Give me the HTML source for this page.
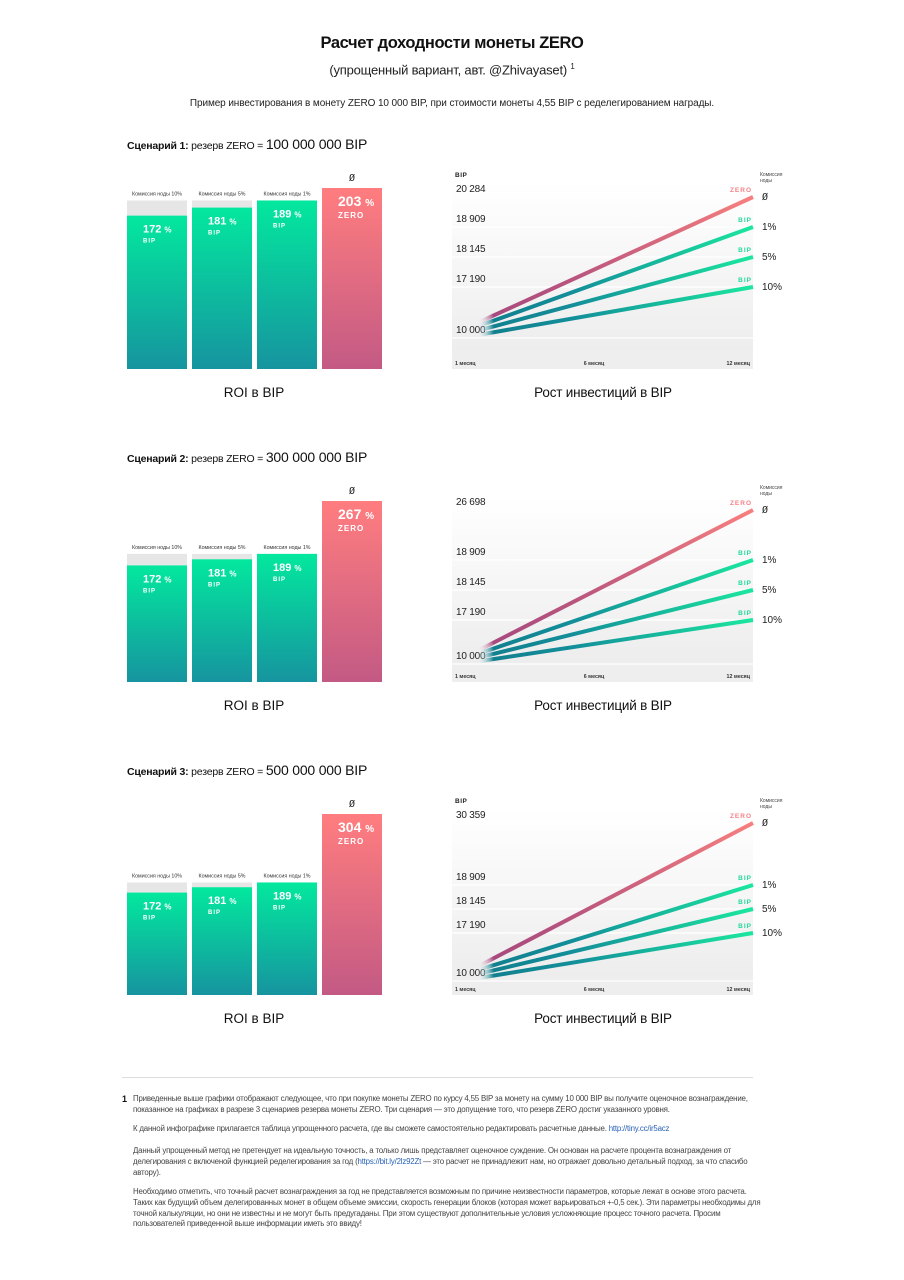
<!DOCTYPE html>
<html><head><meta charset="utf-8">
<style>
html,body{margin:0;padding:0;background:#fff;}
body{width:904px;height:1280px;position:relative;overflow:hidden;font-family:"Liberation Sans","DejaVu Sans",sans-serif;color:#111;}
.abs{position:absolute;}
.title{left:0;width:904px;top:34px;text-align:center;font-weight:bold;font-size:16.5px;letter-spacing:-0.4px;}
.sub{left:0;width:904px;top:62px;text-align:center;font-size:13px;color:#222;letter-spacing:-0.2px;}
.intro{left:0;width:904px;top:98px;text-align:center;font-size:10px;color:#222;letter-spacing:-0.1px;}
.foot{left:133px;width:630px;font-size:7.9px;line-height:10.8px;color:#444;letter-spacing:-0.2px;}
.foot a{color:#2a62b8;text-decoration:none;}
</style></head>
<body>
<div class="abs title">Расчет доходности монеты ZERO</div>
<div class="abs sub">(упрощенный вариант, авт. @Zhivayaset) <sup style="font-size:8px">1</sup></div>
<div class="abs intro">Пример инвестирования в монету ZERO 10 000 BIP, при стоимости монеты 4,55 BIP с ределегированием награды.</div>

<svg id="charts" class="abs" style="left:0;top:0" width="904" height="1060"></svg>

<div class="abs" style="left:122px;top:1077px;width:631px;height:1px;background:#ddd"></div>
<div class="abs" style="left:122px;top:1094px;font-size:9px;font-weight:bold">1</div>
<div class="abs foot" style="top:1094px">Приведенные выше графики отображают следующее, что при покупке монеты ZERO по курсу 4,55 BIP за монету на сумму 10 000 BIP вы получите оценочное вознаграждение, показанное на графиках в разрезе 3 сценариев резерва монеты ZERO. Три сценария — это допущение того, что резерв ZERO достиг указанного уровня.</div>
<div class="abs foot" style="top:1124px">К данной инфографике прилагается таблица упрощенного расчета, где вы сможете самостоятельно редактировать расчетные данные. <a href="#">http://tiny.cc/ir5acz</a></div>
<div class="abs foot" style="top:1146px">Данный упрощенный метод не претендует на идеальную точность, а только лишь представляет оценочное суждение. Он основан на расчете процента вознаграждения от делегирования с включеной функцией ределегирования за год (<a href="#">https://bit.ly/2lz92Zt</a> — это расчет не принадлежит нам, но отражает довольно детальный подход, за что спасибо автору).</div>
<div class="abs foot" style="top:1187px">Необходимо отметить, что точный расчет вознаграждения за год не представляется возможным по причине неизвестности параметров, которые лежат в основе этого расчета. Таких как будущий объем делегированных монет в общем объеме эмиссии, скорость генерации блоков (которая может варьироваться +-0,5 сек.). Эти параметры необходимы для точной калькуляции, но они не известны и не могут быть предугаданы. При этом существуют дополнительные условия усложняющие процесс точного расчета. Просим пользователей приведенной выше информации иметь это ввиду!</div>

<script>
// ---- data ----
const scenarioNames = ["Сценарий 1:", "Сценарий 2:", "Сценарий 3:"];
const reserveLabels = ["100 000 000 BIP", "300 000 000 BIP", "500 000 000 BIP"];
const barCategories = ["Комиссия ноды 10%", "Комиссия ноды 5%", "Комиссия ноды 1%", "Ø"];
const barUnits = ["BIP", "BIP", "BIP", "ZERO"];
const roiS1 = [172, 181, 189, 203];
const roiS2 = [172, 181, 189, 267];
const roiS3 = [172, 181, 189, 304];
const roiValues = [roiS1, roiS2, roiS3];
const seriesNames = ["ZERO", "BIP", "BIP", "BIP"];
const seriesRightLabels = ["Ø", "1%", "5%", "10%"];
const monthTicks = [1, 6, 12];
const monthLabels = ["1 месяц", "6 месяц", "12 месяц"];
const startValues = [12100, 11600, 11000, 10400];
const endS1 = [20284, 18909, 18145, 17190];
const endS2 = [26698, 18909, 18145, 17190];
const endS3 = [30359, 18909, 18145, 17190];
const endValues = [endS1, endS2, endS3];
const tickS1 = [10000, 17190, 18145, 18909, 20284];
const tickS2 = [10000, 17190, 18145, 18909, 26698];
const tickS3 = [10000, 17190, 18145, 18909, 30359];
const tickValues = [tickS1, tickS2, tickS3];

// ---- layout (not data) ----
const layout = {
  offsets: [0, 313, 626],
  gridRange: [[338, 287, 257, 227, 197], [351, 307, 277, 247, 197], [355, 307, 283, 259, 197]]
};

const NS = "http://www.w3.org/2000/svg";
const svg = document.getElementById("charts");
function el(tag, attrs, parent) {
  const e = document.createElementNS(NS, tag);
  for (const k in attrs) e.setAttribute(k, attrs[k]);
  (parent || svg).appendChild(e);
  return e;
}
function txt(str, attrs, parent) { const t = el("text", attrs, parent); t.textContent = str; return t; }
const FONT = '"Liberation Sans",sans-serif';

const defs = el("defs", {});
function grad(id, c1, c2) {
  const g = el("linearGradient", {id: id, x1: 0, y1: 0, x2: 0, y2: 1}, defs);
  el("stop", {offset: 0, "stop-color": c1}, g);
  el("stop", {offset: 1, "stop-color": c2}, g);
}
grad("gBip", "#03e89e", "#16949f");
grad("gZero", "#ff7d7f", "#c35a84");
grad("gPlot", "#ffffff", "#ebebeb");

function makeY(dom, rng) {
  return v => {
    for (let i = 0; i < dom.length - 1; i++) {
      if (v <= dom[i + 1] || i === dom.length - 2) {
        const t = (v - dom[i]) / (dom[i + 1] - dom[i]);
        return rng[i] + t * (rng[i + 1] - rng[i]);
      }
    }
  };
}
const xMonth = m => 483 + (m - 1) / 11 * (753 - 483);

for (let s = 0; s < 3; s++) {
  const o = layout.offsets[s];
  const g = el("g", {transform: "translate(0," + o + ")"});
  
  

  const head = txt("", {x: 127, y: 149, "font-family": FONT, "font-size": 10.5, "letter-spacing": -0.2, fill: "#111"}, g);
  
  
  const t1 = el("tspan", {"font-weight": "bold"}, head); t1.textContent = scenarioNames[s] + " ";
  const t2 = el("tspan", {}, head); t2.textContent = "резерв ZERO = ";
  const t3 = el("tspan", {"font-size": 14}, head); t3.textContent = reserveLabels[s];

  // ---- bar chart ----
  const vals = roiValues[s];
  const maxV = Math.max(...vals);
  const maxBip = Math.max(...vals.slice(0, 3));
  const bottom = 369, full = 181;
  const hScale = v => v / maxV * full;
  for (let i = 0; i < 4; i++) {
    const x = 127 + i * 65, w = 60;
    const h = hScale(vals[i]);
    if (i < 3) {
      const gh = hScale(maxBip);
      const grey = el("rect", {x: x, y: bottom - gh, width: w, height: gh, fill: "#e6e6e6"}, g);
      
      
      const lab = txt(barCategories[i], {x: x + w / 2, y: bottom - gh - 5, "text-anchor": "middle", "font-family": FONT, "font-size": 5.3, fill: "#333"}, g);
      
      
    } else {
      const lab = txt(barCategories[i], {x: x + w / 2, y: bottom - h - 7, "text-anchor": "middle", "font-family": '"DejaVu Sans Mono",monospace', "font-size": 10, fill: "#222"}, g);
      
      
    }
    const r = el("rect", {x: x, y: bottom - h, width: w, height: h, fill: i < 3 ? "url(#gBip)" : "url(#gZero)"}, g);
    
    
    const big = i === 3;
    const vt = txt("", {x: x + 16, y: bottom - h + (big ? 18 : 17), "font-family": FONT, "font-weight": "bold", "font-size": big ? 14 : 11, fill: "#fff"}, g);
    
    
    const a = el("tspan", {}, vt); a.textContent = vals[i] + " ";
    const b = el("tspan", {"font-size": big ? 10 : 8}, vt); b.textContent = "%";
    const u = txt(barUnits[i], {x: x + 16, y: bottom - h + (big ? 30 : 27), "font-family": FONT, "font-weight": "bold", "font-size": big ? 8 : 6, "letter-spacing": 1, fill: "#fff"}, g);
    
    
  }
  const c1 = txt("ROI в BIP", {x: 254, y: 397, "text-anchor": "middle", "font-family": FONT, "font-size": 13.5, fill: "#111"}, g);
  
  

  // ---- line chart ----
  const y = makeY(tickValues[s], layout.gridRange[s]);
  const bg = el("rect", {x: 452, y: 183, width: 301, height: 186, fill: "url(#gPlot)"}, g);
  
  
  el("rect", {x: 452, y: 350, width: 301, height: 19, fill: "#eeeeee"}, g);
  if (s !== 1) {
    const yt = txt("BIP", {x: 455, y: 177, "font-family": FONT, "font-weight": "bold", "font-size": 6.5, "letter-spacing": 0.5, fill: "#222"}, g);
    
    
  }
  const cm = txt("Комиссия", {x: 760, y: 176, "font-family": FONT, "font-size": 5, fill: "#444"}, g);
  
  
  txt("ноды", {x: 760, y: 182, "font-family": FONT, "font-size": 5, fill: "#444"}, g);
  tickValues[s].forEach(v => {
    const yy = y(v);
    const gl = el("line", {x1: 440, x2: 753, y1: yy, y2: yy, stroke: "#fff", "stroke-width": 1.2}, g);
    
    
    const tl = txt(v.toLocaleString("ru-RU").replace(/\s/g, " "), {x: 456, y: yy - 5, "font-family": FONT, "font-size": 10, "letter-spacing": -0.2, fill: "#222"}, g);
    
    
  });
  monthTicks.forEach((m, i) => {
    const anchor = i === 0 ? "start" : (i === 2 ? "end" : "middle");
    const xx = i === 0 ? 455 : (i === 2 ? 750 : 594);
    const ml = txt(monthLabels[i], {x: xx, y: 365, "text-anchor": anchor, "font-family": FONT, "font-weight": "bold", "font-size": 5.3, fill: "#333"}, g);
    
    
  });
  for (let k = 0; k < 4; k++) {
    const x1 = xMonth(1), x2 = xMonth(12);
    const y1 = y(startValues[k]), y2 = y(endValues[s][k]);
    const id = "lg" + s + "_" + k;
    const lg = el("linearGradient", {id: id, gradientUnits: "userSpaceOnUse", x1: x1 - 6, y1: y1, x2: x2, y2: y2}, defs);
    const zero = k === 0;
    el("stop", {offset: 0, "stop-color": "#ffffff", "stop-opacity": 0}, lg);
    el("stop", {offset: 0.06, "stop-color": zero ? "#a84a7e" : "#11808f"}, lg);
    el("stop", {offset: 0.35, "stop-color": zero ? "#b9557e" : "#138f9a"}, lg);
    el("stop", {offset: 1, "stop-color": zero ? "#f77f7e" : "#1be79e"}, lg);
    const ln = el("line", {x1: x1 - 6, y1: y1, x2: x2, y2: y2, stroke: "url(#" + id + ")", "stroke-width": 4, "stroke-linecap": "butt"}, g);
    
    
    const sl = txt(seriesNames[k], {x: 752, y: y2 - 5, "text-anchor": "end", "font-family": FONT, "font-weight": "bold", "font-size": 6.5, "letter-spacing": 1, fill: zero ? "#f58186" : "#20d99b"}, g);
    
    
    const rl = txt(seriesRightLabels[k], {x: 762, y: y2 + 3, "font-family": zero ? '"DejaVu Sans Mono",monospace' : FONT, "font-size": 10, fill: "#222"}, g);
    
    
  }
  const c2 = txt("Рост инвестиций в BIP", {x: 603, y: 397, "text-anchor": "middle", "font-family": FONT, "font-size": 13.5, "letter-spacing": -0.2, fill: "#111"}, g);
  
  
}
</script>
</body></html>
